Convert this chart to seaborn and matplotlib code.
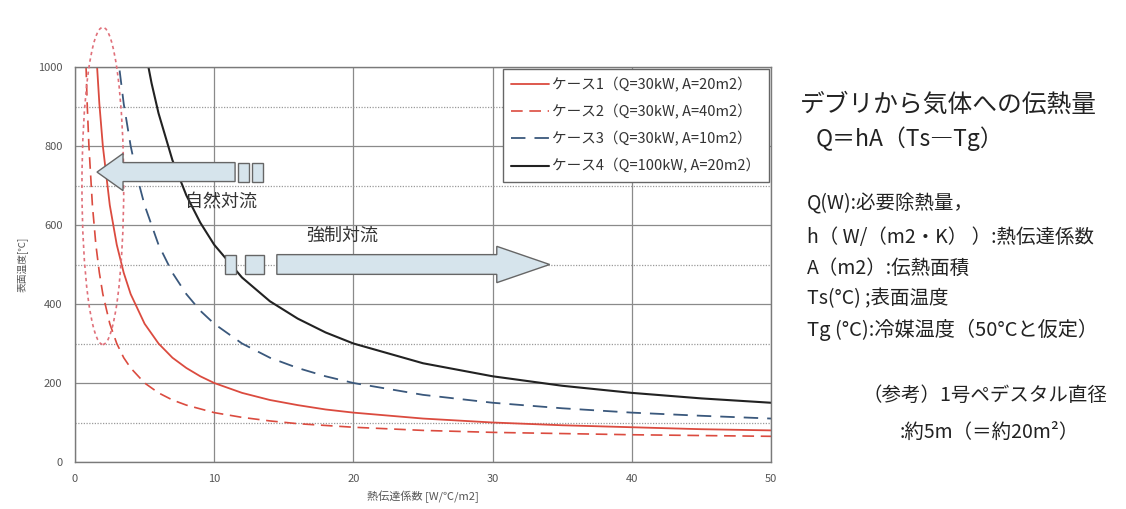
import numpy as np
import pandas as pd
import matplotlib
matplotlib.use("Agg")
import matplotlib.pyplot as plt
from matplotlib.patches import Ellipse, Polygon, Rectangle
from matplotlib.ticker import MultipleLocator
import seaborn as sns

# Surface temperature [°C] versus heat transfer coefficient [W/°C/m2]
case1_h = [1.5, 1.75, 2, 2.5, 3, 3.5, 4, 5, 6, 7, 8, 9, 10, 12, 14, 16, 18, 20, 25, 30, 35, 40, 45, 50]
case1_t = [1050, 907, 800, 650, 550, 479, 425, 350, 300, 264, 238, 217, 200, 175, 157, 144, 133, 125, 110, 100, 93, 88, 83, 80]

case2_h = [0.75, 0.875, 1, 1.25, 1.5, 1.75, 2, 2.5, 3, 3.5, 4, 5, 6, 7, 8, 10, 12, 14, 16, 20, 25, 30, 40, 50]
case2_t = [1050, 907, 800, 650, 550, 479, 425, 350, 300, 264, 238, 200, 175, 157, 144, 125, 113, 104, 97, 88, 80, 75, 69, 65]

case3_h = [3, 3.5, 4, 4.5, 5, 6, 7, 8, 9, 10, 12, 14, 16, 18, 20, 25, 30, 35, 40, 45, 50]
case3_t = [1050, 907, 800, 717, 650, 550, 479, 425, 383, 350, 300, 264, 238, 217, 200, 170, 150, 136, 125, 117, 110]

case4_h = [5, 5.5, 6, 7, 8, 9, 10, 12, 14, 16, 18, 20, 25, 30, 35, 40, 45, 50]
case4_t = [1050, 959, 883, 764, 675, 606, 550, 467, 407, 363, 328, 300, 250, 217, 193, 175, 161, 150]

case_labels = [
    "ケース1（Q=30kW, A=20m2）",
    "ケース2（Q=30kW, A=40m2）",
    "ケース3（Q=30kW, A=10m2）",
    "ケース4（Q=100kW, A=20m2）",
]

x_ticks = [0, 10, 20, 30, 40, 50]
y_ticks = [0, 200, 400, 600, 800, 1000]

sns.set_style("white")
plt.rcParams["font.family"] = ["Noto Sans CJK JP", "DejaVu Sans"]

fig = plt.figure(figsize=(11.26, 5.09), dpi=100)
ax = fig.add_axes([75 / 1126, 1 - 462 / 509, (771 - 75) / 1126, (462 - 67) / 509])

series = [
    (case1_h, case1_t, "#db4b3f", "-", 1.3),
    (case2_h, case2_t, "#db4b3f", (0, (7, 4)), 1.2),
    (case3_h, case3_t, "#3a587c", (0, (8, 5)), 1.3),
    (case4_h, case4_t, "#222222", "-", 1.5),
]
for (hs, ts, col, ls, lw), lab in zip(series, case_labels):
    df = pd.DataFrame({"h": hs, "Ts": ts})
    sns.lineplot(data=df, x="h", y="Ts", ax=ax, color=col, linewidth=lw,
                 linestyle=ls, label=lab, sort=False, estimator=None)

ax.set_xlim(0, 50)
ax.set_ylim(0, 1000)
ax.set_xticks(x_ticks)
ax.set_yticks(y_ticks)
ax.yaxis.set_minor_locator(MultipleLocator(100))
ax.grid(True, which="major", color="#8a8a8a", linewidth=0.9, linestyle="-")
ax.grid(True, which="minor", axis="y", color="#9a9a9a", linewidth=0.9, linestyle=(0, (1, 1.2)))
ax.set_axisbelow(True)
ax.tick_params(axis="both", which="both", length=0, labelsize=8, colors="#555555", pad=9)
for s in ax.spines.values():
    s.set_color("#7a7a7a")
    s.set_linewidth(1.0)

ax.set_xlabel("熱伝達係数 [W/℃/m2]", fontsize=8, color="#555555", labelpad=4)
ax.set_ylabel("表面温度[℃]", fontsize=7, color="#555555", labelpad=7)

leg = ax.legend(loc="upper right", bbox_to_anchor=(0.9965, 0.995), borderaxespad=0,
                fontsize=10.5, frameon=True, fancybox=False, framealpha=1,
                edgecolor="#666666", handlelength=2.6, handletextpad=0.25,
                labelspacing=0.82, borderpad=0.55)
leg.get_frame().set_linewidth(1.0)
for t in leg.get_texts():
    t.set_color("#333333")

# natural convection range marker
ax.add_patch(Ellipse((2.0, 699), width=3.0, height=803, fill=False,
                     edgecolor="#e0707a", linewidth=1.2, linestyle=(0, (2, 2)),
                     clip_on=False, zorder=4))

arrow_fc = "#d6e4ec"
arrow_ec = "#666666"

# left arrow: natural convection
left_arrow = [(1.58, 734), (3.45, 781), (3.45, 758), (11.5, 758),
              (11.5, 710), (3.45, 710), (3.45, 687)]
ax.add_patch(Polygon(left_arrow, closed=True, facecolor=arrow_fc, edgecolor=arrow_ec,
                     linewidth=1.0, zorder=5))
for x0, x1 in [(11.7, 12.5), (12.75, 13.5)]:
    ax.add_patch(Rectangle((x0, 710), x1 - x0, 48, facecolor=arrow_fc,
                           edgecolor=arrow_ec, linewidth=1.0, zorder=5))
ax.text(10.5, 658, "自然対流", fontsize=13, color="#333333", ha="center",
        va="center", zorder=6)

# right arrow: forced convection
right_arrow = [(14.5, 525), (30.3, 525), (30.3, 546), (34.1, 500),
               (30.3, 454), (30.3, 475), (14.5, 475)]
ax.add_patch(Polygon(right_arrow, closed=True, facecolor=arrow_fc, edgecolor=arrow_ec,
                     linewidth=1.0, zorder=5))
for x0, x1 in [(10.8, 11.6), (12.2, 13.6)]:
    ax.add_patch(Rectangle((x0, 475), x1 - x0, 50, facecolor=arrow_fc,
                           edgecolor=arrow_ec, linewidth=1.0, zorder=5))
ax.text(19.2, 572, "強制対流", fontsize=13, color="#333333", ha="center",
        va="center", zorder=6)

# explanatory notes
def note(px, py, s, size):
    fig.text(px / 1126, 1 - py / 509, s, fontsize=size, color="#222222",
             ha="left", va="center")

note(800, 105, "デブリから気体への伝熱量", 17.8)
note(816, 139, "Q＝hA（Ts―Tg）", 16.5)
note(807, 204, "Q(W):必要除熱量，", 14)
note(807, 237, "h（ W/（m2・K） ）:熱伝達係数", 14)
note(807, 268, "A（m2）:伝熱面積", 14)
note(807, 299, "Ts(°C) ;表面温度", 14)
note(807, 330, "Tg (°C):冷媒温度（50°Cと仮定）", 14.5)
note(862, 395, "（参考）1号ペデスタル直径", 14)
note(900, 432, ":約5m（＝約20m²）", 14)

fig.savefig("out.png", dpi=100)
